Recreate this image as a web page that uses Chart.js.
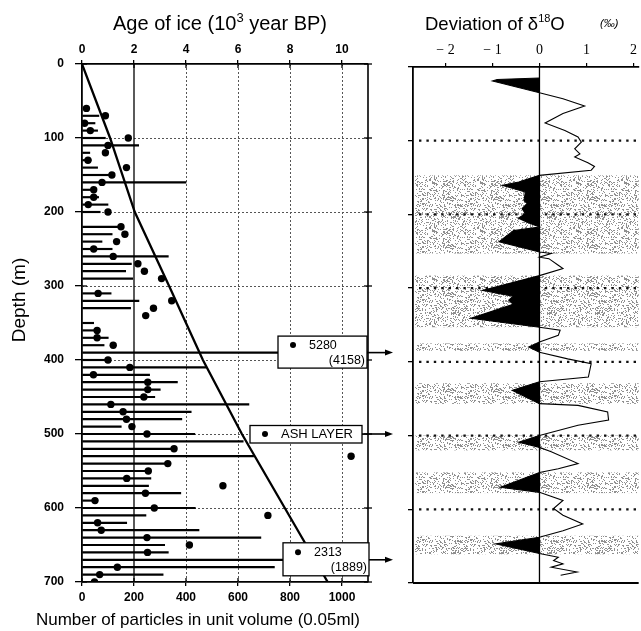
<!DOCTYPE html>
<html>
<head>
<meta charset="utf-8">
<script src="https://cdn.jsdelivr.net/npm/chart.js@4.4.1/dist/chart.umd.min.js"></script>
<style>
  html, body { margin: 0; padding: 0; background: #fff; }
  #wrap { position: relative; width: 641px; height: 631px; overflow: hidden; background: #fff; }
  #particleChart { position: absolute; left: 0; top: 0; }
  #isotopeChart { position: absolute; left: 400px; top: 0; }
</style>
</head>
<body>
<div id="wrap">
  <canvas id="particleChart" width="400" height="631"></canvas>
  <canvas id="isotopeChart" width="241" height="631"></canvas>
</div>
<script>
// ===== DATA =====
const depthTicks = [0, 100, 200, 300, 400, 500, 600, 700];
const particleTicks = [0, 200, 400, 600, 800, 1000];
const ageTicks = [0, 2, 4, 6, 8, 10];
const deltaTicks = [-2, -1, 0, 1, 2];

// horizontal lines: particle count for each 10 m of core
const barDepths = [70, 80, 90, 100, 110, 120, 130, 140, 150, 160, 170, 180, 190, 200,
  220, 230, 240, 250, 260, 270, 280, 290, 310, 320, 330,
  350, 360, 370, 380, 390, 400, 410, 420, 430, 440, 450, 460, 470, 480, 490, 500, 510,
  520, 530, 540, 550, 560, 570, 580, 590, 600, 610, 620, 630, 640, 650, 660, 670, 680, 690];
const barCounts = [65, 50, 60, 90, 218, 30, 35, 60, 115, 400, 50, 64, 100, 70,
  150, 116, 77, 116, 332, 190, 168, 195, 112, 219, 187,
  45, 69, 101, 85, 5280, 110, 478, 260, 367, 301, 280, 642, 420, 384, 151, 434, 620,
  354, 660, 333, 262, 265, 256, 380, 55, 436, 246, 172, 450, 688, 318, 332, 2313, 740, 312];

// black dots
const dotDepths = [60, 70, 80, 90, 100, 110, 120, 130, 140, 150, 160, 170, 180, 190, 200,
  220, 230, 240, 250, 260, 270, 280, 290, 310, 320, 330, 340, 360, 370, 380,
  400, 410, 420, 430, 440, 450, 460, 470, 480, 490, 500,
  520, 530, 540, 550, 560, 570, 580, 590, 600, 610, 620, 630, 640, 650, 660, 680, 690, 700];
const dotCounts = [17, 90, 10, 32, 178, 100, 90, 23, 171, 115, 77, 45, 45, 24, 100,
  150, 165, 133, 45, 120, 215, 240, 306, 62, 345, 275, 245, 58, 58, 120,
  100, 184, 44, 253, 253, 238, 111, 158, 171, 192, 250,
  354, 1035, 330, 255, 172, 542, 244, 50, 278, 715, 60, 74, 250, 413, 252, 136, 68, 48];

// age of ice (10^3 yr BP) against depth
const ageDepths = [0, 100, 200, 300, 400, 500, 600, 700];
const ageValues = [0, 1.08, 2.03, 3.35, 4.65, 6.15, 7.8, 9.45];

// off-scale values written in boxes
const noteDepths = [390, 500, 670];
const noteMain = ['5280', 'ASH LAYER', '2313'];
const noteSub = ['(4158)', '', '(1889)'];

// deviation of d18O against depth
const o18Depths = [15, 17, 19, 35, 43, 53, 63, 76, 86, 95, 102, 111, 118, 122, 130, 135, 140, 147,
  156, 160.5, 169.6, 181, 185, 192, 199, 205, 211, 217, 222, 237, 251, 253, 258, 260, 269, 273.5, 283,
  303, 311, 316, 322, 341, 353, 357, 364, 373, 380, 387, 396, 402.5, 420.6, 427, 438.6, 456.7,
  459, 468, 479, 486, 500, 509, 516, 522, 538, 545, 550, 570, 577, 588, 599, 608, 620, 629, 638,
  647, 660, 665, 669.5, 674, 678.6, 685, 689.6];
const o18Values = [0, -0.9, -1.0, 0, 0.5, 0.96, 0.5, 0.12, 0.54, 0.82, 0.89, 0.75, 0.86, 0.75, 1.03, 1.17, 1.1, 0,
  -0.44, -0.79, -0.3, -0.33, -0.26, -0.37, -0.3, -0.45, -0.25, 0, -0.55, -0.86, 0, 0.25, 0, 0.2, 0.4, 0.5, 0,
  -1.21, -0.56, -0.65, -0.56, -1.46, 0, 0.44, 0.4, 0, -0.23, 0, 0.6, 1.1, 1.04, 0, -0.58, 0,
  0.82, 1.45, 1.47, 0.82, 0, -0.44, 0, 0.25, 0.82, 0.4, 0, -0.83, 0, 0.5, 0.3, 0.5, 0.92, 0.5, 0,
  -0.93, 0, 0.4, 0.3, 0.5, 0.25, 0.8, 0.45];

// shaded (cold) intervals
const bandTops = [147, 283, 375, 429, 500, 550, 636];
const bandBottoms = [253, 353, 385, 457, 520, 578, 661];

// ===== HELPERS =====
const SANS = '"Liberation Sans", Arial, Helvetica, sans-serif';
const SERIF = '"Liberation Serif", "Times New Roman", serif';
Chart.defaults.font.family = SANS;
Chart.defaults.color = '#000';

function seg(ctx, x1, y1, x2, y2) {
  ctx.beginPath(); ctx.moveTo(x1, y1); ctx.lineTo(x2, y2); ctx.stroke();
}

// text with raised parts: [{t, size, rise, font}]
function richText(ctx, parts, x, y, align) {
  let total = 0;
  parts.forEach(p => { ctx.font = p.size + 'px ' + (p.font || SANS); p.w = ctx.measureText(p.t).width; total += p.w; });
  let cx = align === 'center' ? x - total / 2 : x;
  ctx.textAlign = 'left';
  ctx.textBaseline = 'alphabetic';
  parts.forEach(p => {
    ctx.font = p.size + 'px ' + (p.font || SANS);
    ctx.fillText(p.t, cx, y - (p.rise || 0));
    cx += p.w;
  });
}

// speckle texture for the shaded intervals (fixed hash, same every run)
function stipple() {
  const c = document.createElement('canvas');
  c.width = 48; c.height = 48;
  const g = c.getContext('2d');
  g.fillStyle = 'rgba(70,70,70,0.6)';
  for (let i = 0; i < 48; i++) {
    for (let j = 0; j < 48; j++) {
      const h = Math.sin(i * 12.9898 + j * 78.233) * 43758.5453;
      if (h - Math.floor(h) < 0.26) g.fillRect(i, j, 1, 1);
    }
  }
  return c;
}

// ===== LEFT CHART: particles + age =====
const particleDecor = {
  id: 'particleDecor',
  beforeDatasetsDraw(chart) {
    const {ctx, chartArea: a, scales} = chart;
    const x = scales.x, y = scales.y;
    ctx.save();
    ctx.strokeStyle = '#555';
    ctx.lineWidth = 1;
    ctx.setLineDash([2, 2]);
    depthTicks.slice(1, -1).forEach(d => {
      const py = Math.round(y.getPixelForValue(d)) + 0.5;
      seg(ctx, a.left, py, a.right, py);
    });
    particleTicks.slice(2).forEach(v => {
      const px = Math.round(x.getPixelForValue(v)) + 0.5;
      seg(ctx, px, a.top, px, a.bottom);
    });
    ctx.setLineDash([]);
    ctx.strokeStyle = '#000';
    ctx.lineWidth = 1.3;
    const p200 = x.getPixelForValue(particleTicks[1]);
    seg(ctx, p200, a.top, p200, a.bottom);
    ctx.restore();
  },
  afterDatasetsDraw(chart) {
    const {ctx, chartArea: a, scales} = chart;
    const x = scales.x, x2 = scales.x2, y = scales.y;
    ctx.save();
    ctx.strokeStyle = '#000';
    ctx.lineWidth = 1.3;
    // inner tick marks and right frame
    depthTicks.forEach(d => {
      const py = y.getPixelForValue(d);
      seg(ctx, a.left, py, a.left + 5, py);
      seg(ctx, a.right - 4, py, a.right + 4, py);
    });
    ageTicks.forEach(v => { const px = x2.getPixelForValue(v); seg(ctx, px, a.top, px, a.top + 4); });
    particleTicks.forEach(v => { const px = x.getPixelForValue(v); seg(ctx, px, a.bottom - 4, px, a.bottom); });
    ctx.lineWidth = 1.6;
    seg(ctx, a.right, a.top, a.right, a.bottom);

    // boxes for off-scale values
    const boxes = [
      {l: a.right - 90, r: a.right - 1, t: -16.5, h: 32},
      {l: a.right - 118, r: a.right - 6, t: -8.5, h: 17.5},
      {l: a.right - 85, r: a.right + 1, t: -17, h: 33}
    ];
    noteDepths.forEach((d, i) => {
      const py = y.getPixelForValue(d);
      const b = boxes[i];
      ctx.fillStyle = '#fff';
      ctx.fillRect(b.l, py + b.t, b.r - b.l, b.h);
      ctx.lineWidth = 1.3;
      ctx.strokeRect(b.l, py + b.t, b.r - b.l, b.h);
      // arrow
      ctx.lineWidth = 1.6;
      seg(ctx, b.r, py, 386, py);
      ctx.fillStyle = '#000';
      ctx.beginPath(); ctx.moveTo(393, py); ctx.lineTo(385, py - 3); ctx.lineTo(385, py + 3); ctx.closePath(); ctx.fill();
      ctx.font = '12.5px ' + SANS;
      ctx.textBaseline = 'middle';
      if (noteSub[i]) {
        ctx.beginPath(); ctx.arc(b.l + 15, py - 7.5, 3, 0, Math.PI * 2); ctx.fill();
        ctx.textAlign = 'left';
        ctx.fillText(noteMain[i], b.l + 31, py - 7.5);
        ctx.textAlign = 'right';
        ctx.fillText(noteSub[i], b.r - 2, py + 8);
      } else {
        ctx.beginPath(); ctx.arc(b.l + 15, py, 3, 0, Math.PI * 2); ctx.fill();
        ctx.font = '13px ' + SANS;
        ctx.textAlign = 'left';
        ctx.fillText(noteMain[i], b.l + 31, py + 0.5);
      }
    });
    ctx.restore();
  },
  afterDraw(chart) {
    const {ctx} = chart;
    ctx.save();
    ctx.fillStyle = '#000';
    richText(ctx, [{t: 'Age of ice (10', size: 20}, {t: '3', size: 13, rise: 8}, {t: ' year BP)', size: 20}], 220, 30, 'center');
    ctx.font = '17px ' + SANS;
    ctx.textAlign = 'center';
    ctx.textBaseline = 'middle';
    ctx.fillText('Number of particles in unit volume (0.05ml)', 198, 620);
    ctx.font = '19px ' + SANS;
    ctx.translate(20, 300);
    ctx.rotate(-Math.PI / 2);
    ctx.fillText('Depth (m)', 0, 0);
    ctx.restore();
  }
};

new Chart(document.getElementById('particleChart'), {
  type: 'bar',
  data: {
    datasets: [
      {
        type: 'bar',
        data: barDepths.map((d, i) => ({x: barCounts[i], y: d})),
        backgroundColor: '#000',
        borderWidth: 0,
        barThickness: 1.5,
        xAxisID: 'x',
        yAxisID: 'y',
        clip: 0,
        order: 3
      },
      {
        type: 'scatter',
        data: dotDepths.map((d, i) => ({x: dotCounts[i], y: d})),
        pointRadius: 3.7,
        pointBackgroundColor: '#000',
        pointBorderWidth: 0,
        xAxisID: 'x',
        yAxisID: 'y',
        order: 2
      },
      {
        type: 'line',
        data: ageDepths.map((d, i) => ({x: ageValues[i], y: d})),
        borderColor: '#000',
        borderWidth: 2.3,
        pointRadius: 0,
        fill: false,
        tension: 0,
        xAxisID: 'x2',
        yAxisID: 'y',
        order: 1
      }
    ]
  },
  options: {
    indexAxis: 'y',
    responsive: false,
    animation: false,
    layout: { padding: { left: 0, right: 32, top: 0, bottom: 0 } },
    plugins: { legend: { display: false }, tooltip: { enabled: false } },
    scales: {
      x: {
        type: 'linear', position: 'bottom', min: 0, max: 1100,
        afterBuildTicks: s => { s.ticks = particleTicks.map(v => ({value: v})); },
        afterFit: s => { s.height = 49; },
        grid: { drawOnChartArea: false, color: '#000', tickLength: 4, lineWidth: 1.3 },
        border: { color: '#000', width: 1.8 },
        ticks: { color: '#000', padding: 4, maxRotation: 0, font: { size: 12, weight: 'bold' }, callback: v => String(v) }
      },
      x2: {
        type: 'linear', position: 'top', min: 0, max: 11,
        afterBuildTicks: s => { s.ticks = ageTicks.map(v => ({value: v})); },
        afterFit: s => { s.height = 64; },
        grid: { drawOnChartArea: false, color: '#000', tickLength: 4, lineWidth: 1.3 },
        border: { color: '#000', width: 1.8 },
        ticks: { color: '#000', padding: 3, maxRotation: 0, font: { size: 12, weight: 'bold' }, callback: v => String(v) }
      },
      y: {
        type: 'linear', position: 'left', reverse: true, min: 0, max: 700,
        offset: false,
        afterBuildTicks: s => { s.ticks = depthTicks.map(v => ({value: v})); },
        afterFit: s => { s.width = 82; },
        grid: { offset: false, drawOnChartArea: false, color: '#000', tickLength: 7, lineWidth: 1.3 },
        border: { color: '#000', width: 1.8 },
        ticks: { color: '#000', padding: 11, font: { size: 12, weight: 'bold' }, callback: v => String(v) }
      }
    }
  },
  plugins: [particleDecor]
});

// ===== RIGHT CHART: deviation of d18O =====
const bandPattern = stipple();

const isotopeDecor = {
  id: 'isotopeDecor',
  beforeDatasetsDraw(chart) {
    const {ctx, chartArea: a, scales} = chart;
    const y = scales.y;
    ctx.save();
    ctx.fillStyle = ctx.createPattern(bandPattern, 'repeat');
    bandTops.forEach((t, i) => {
      const y1 = y.getPixelForValue(t), y2 = y.getPixelForValue(bandBottoms[i]);
      ctx.fillRect(a.left + 2, y1, a.right - a.left - 2, y2 - y1);
    });
    ctx.strokeStyle = '#111';
    ctx.lineWidth = 2.2;
    ctx.setLineDash([2.4, 5]);
    depthTicks.slice(1, -1).forEach(d => {
      const py = y.getPixelForValue(d);
      seg(ctx, a.left + 6, py, a.right, py);
    });
    ctx.restore();
  },
  afterDatasetsDraw(chart) {
    const {ctx, chartArea: a, scales} = chart;
    ctx.save();
    ctx.strokeStyle = '#000';
    ctx.lineWidth = 1.3;
    const zx = scales.x.getPixelForValue(0);
    seg(ctx, zx, a.top, zx, a.bottom);
    ctx.lineWidth = 2;
    seg(ctx, a.left, a.bottom, a.right, a.bottom);
    ctx.restore();
  },
  afterDraw(chart) {
    const {ctx} = chart;
    ctx.save();
    ctx.fillStyle = '#000';
    richText(ctx, [{t: 'Deviation of δ', size: 18.5}, {t: '18', size: 11, rise: 8}, {t: 'O', size: 18.5}], 25, 30, 'left');
    ctx.font = 'italic 11px ' + SANS;
    ctx.textAlign = 'left';
    ctx.fillText('(‰)', 200, 27);
    ctx.restore();
  }
};

const negPart = o18Values.map(v => Math.min(v, 0));

new Chart(document.getElementById('isotopeChart'), {
  type: 'line',
  data: {
    datasets: [
      {
        data: o18Depths.map((d, i) => ({x: negPart[i], y: d})),
        fill: { value: 0 },
        backgroundColor: '#000',
        borderColor: 'rgba(0,0,0,0)',
        borderWidth: 0,
        pointRadius: 0,
        tension: 0,
        order: 2
      },
      {
        data: o18Depths.map((d, i) => ({x: o18Values[i], y: d})),
        fill: false,
        borderColor: '#000',
        borderWidth: 1.1,
        pointRadius: 0,
        tension: 0,
        order: 1
      }
    ]
  },
  options: {
    indexAxis: 'y',
    responsive: false,
    animation: false,
    layout: { padding: { left: 0, right: 0, top: 0, bottom: 48 } },
    plugins: { legend: { display: false }, tooltip: { enabled: false } },
    scales: {
      x: {
        type: 'linear', position: 'top', min: -2.69, max: 2.11,
        afterBuildTicks: s => { s.ticks = deltaTicks.map(v => ({value: v})); },
        afterFit: s => { s.height = 67; },
        grid: { drawOnChartArea: false, color: '#000', tickLength: 4, lineWidth: 1.2 },
        border: { color: '#000', width: 1.8 },
        ticks: {
          color: '#000', padding: 4, maxRotation: 0,
          font: { family: SERIF, size: 14 },
          callback: v => (v < 0 ? '\u2212 ' + Math.abs(v) : String(v))
        }
      },
      y: {
        type: 'linear', position: 'left', reverse: true, min: 0, max: 700,
        afterBuildTicks: s => { s.ticks = depthTicks.map(v => ({value: v})); },
        afterFit: s => { s.width = 13; },
        grid: { drawOnChartArea: false, color: '#000', tickLength: 5, lineWidth: 1.3 },
        border: { color: '#000', width: 1.8 },
        ticks: { display: false }
      }
    }
  },
  plugins: [isotopeDecor]
});
</script>
</body>
</html>
